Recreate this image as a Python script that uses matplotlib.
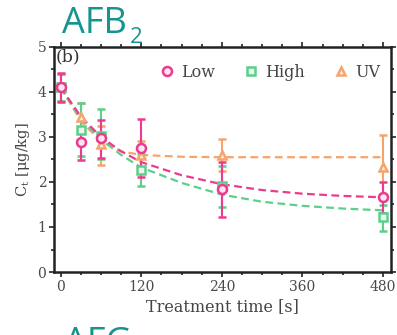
import numpy as np
import matplotlib.pyplot as plt
from matplotlib.ticker import MultipleLocator

# measured concentrations (mean, lower err, upper err) per treatment
times = [0, 30, 60, 120, 240, 480]

low_mean = [4.12, 2.88, 2.97, 2.75, 1.84, 1.67]
low_lo = [0.34, 0.39, 0.44, 0.65, 0.62, 0.37]
low_hi = [0.31, 0.32, 0.41, 0.65, 0.61, 0.33]

high_mean = [4.10, 3.16, 3.02, 2.27, 1.90, 1.23]
high_lo = [0.30, 0.58, 0.52, 0.37, 0.45, 0.33]
high_hi = [0.30, 0.59, 0.60, 0.35, 0.45, 0.26]

uv_mean = [4.10, 3.45, 2.85, 2.60, 2.60, 2.34]
uv_lo = [0.30, 0.35, 0.47, 0.30, 0.35, 0.60]
uv_hi = [0.30, 0.30, 0.40, 0.30, 0.35, 0.70]

# fitted decay curves
fit_t = [0, 30, 60, 90, 120, 180, 240, 300, 360, 420, 480]
low_fit = [4.10, 3.45, 3.00, 2.68, 2.44, 2.15, 1.95, 1.82, 1.74, 1.69, 1.66]
high_fit = [4.10, 3.40, 2.95, 2.60, 2.32, 1.98, 1.72, 1.56, 1.47, 1.41, 1.37]
uv_fit = [4.10, 3.35, 2.90, 2.68, 2.60, 2.56, 2.55, 2.55, 2.55, 2.55, 2.55]

labels = ["Low", "High", "UV"]
colors = ["#ec3a8e", "#5ccf8a", "#f6a46c"]
fills = ["#fbe6ef", "#e8f8ee", "#fdeee2"]
markers = ["o", "s", "^"]

plt.rcParams["font.family"] = ["DejaVu Serif"]
plt.rcParams["mathtext.fontset"] = "dejavuserif"

fig = plt.figure(figsize=(3.97, 3.35), dpi=100)
ax = fig.add_axes([0.136, 0.188, 0.849, 0.672])

series = [
    (low_mean, low_lo, low_hi, low_fit),
    (high_mean, high_lo, high_hi, high_fit),
    (uv_mean, uv_lo, uv_hi, uv_fit),
]
# draw UV first so pink ends up on top
for idx in [2, 1, 0]:
    mean, lo, hi, fit = series[idx]
    c = colors[idx]
    ax.plot(fit_t, fit, ls=(0, (3.5, 2)), color=c, lw=1.6, zorder=2)
    ax.errorbar(times, mean, yerr=[lo, hi], fmt=markers[idx], color=c,
                mfc=fills[idx], mec=c, mew=1.8, ms=6.5 if idx == 0 else 6,
                ecolor=c, elinewidth=1.5, capsize=3, capthick=1.5, zorder=3,
                label=labels[idx])

ax.set_xlim(-10, 492)
ax.set_ylim(0, 5)
ax.set_xticks([0, 120, 240, 360, 480])
ax.xaxis.set_minor_locator(MultipleLocator(30))
ax.yaxis.set_major_locator(MultipleLocator(1))
ax.yaxis.set_minor_locator(MultipleLocator(0.5))
ax.tick_params(which="both", direction="out", top=True, right=True,
               color="#222222", width=1.2, labelsize=10, labelcolor="#4a4a4a",
               pad=2)
ax.tick_params(which="major", length=3.5)
ax.tick_params(which="minor", length=2)
for s in ax.spines.values():
    s.set_linewidth(1.8)
    s.set_color("#222222")

ax.set_xlabel("Treatment time [s]", fontsize=11.5, color="#444444", labelpad=3)
ax.set_ylabel(r"C$_\mathregular{t}$ [μg/kg]", fontsize=10.5, color="#444444",
              labelpad=4)
ax.text(0.006, 0.995, "(b)", transform=ax.transAxes, fontsize=12.5,
        va="top", ha="left", color="#333333")

handles, labs = ax.get_legend_handles_labels()
order = [labs.index(l) for l in labels]
ax.legend([handles[i][0] for i in order], labels, loc="upper right", ncol=3,
          frameon=False, fontsize=11.5, handlelength=0.8, handletextpad=0.45,
          columnspacing=1.9, bbox_to_anchor=(1.01, 0.99), labelcolor="#444444")

teal = "#16958f"
fig.text(62 / 397, 1 - 33 / 335, "AFB", family="Open Sans", fontsize=26,
         color=teal, va="baseline", ha="left")
fig.text(130 / 397, 1 - 43 / 335, "2", family="Open Sans", fontsize=16,
         color=teal, va="baseline", ha="left")
fig.text(64 / 397, 1 - 326 / 335, "AFG", family="Open Sans", fontsize=26,
         color=teal, va="top", ha="left")

fig.savefig("out.png", dpi=100)
